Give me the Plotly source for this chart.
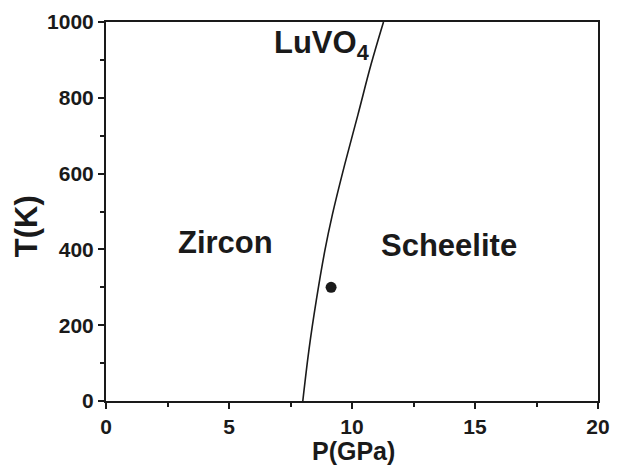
import plotly.graph_objects as go

# Phase boundary (P in GPa, T in K)
boundary_T = [0, 135, 266, 398, 491, 623, 755, 887, 1000]
boundary_P = [8.0, 8.25, 8.55, 8.9, 9.2, 9.7, 10.24, 10.77, 11.28]

# Experimental point
point_P = [9.15]
point_T = [300]

# Region labels
label_text = ["Zircon", "Scheelite", "LuVO<sub>4</sub>"]
label_P = [4.85, 13.95, 8.75]
label_T = [419, 410, 940]

x_title = "P(GPa)"
y_title = "T(K)"

INK = "#1a1a1a"
FONT = "Liberation Sans"

fig = go.Figure()
fig.add_trace(go.Scatter(x=boundary_P, y=boundary_T, mode="lines",
                         line=dict(color=INK, width=1.6, shape="spline", smoothing=1.0),
                         showlegend=False, hoverinfo="skip"))
fig.add_trace(go.Scatter(x=point_P, y=point_T, mode="markers",
                         marker=dict(color=INK, size=11),
                         showlegend=False))

for t, x, y in zip(label_text, label_P, label_T):
    fig.add_annotation(x=x, y=y, text=t, showarrow=False,
                       font=dict(family=FONT, size=31, color=INK, weight="bold"))

# axis titles placed as annotations for precise placement
fig.add_annotation(x=0.504, y=-0.132, xref="paper", yref="paper", text=x_title,
                   showarrow=False, xanchor="center", yanchor="middle",
                   font=dict(family=FONT, size=25, color=INK, weight="bold"))
fig.add_annotation(x=-0.16, y=0.462, xref="paper", yref="paper", text=y_title,
                   showarrow=False, xanchor="center", yanchor="middle", textangle=-90,
                   font=dict(family=FONT, size=31, color=INK, weight="bold"))

axis_common = dict(showgrid=False, zeroline=False, showline=True, linecolor=INK,
                   linewidth=2, mirror=True, ticks="outside", ticklen=6, tickwidth=2,
                   tickcolor=INK, automargin=False,
                   tickfont=dict(family=FONT, size=21, color=INK, weight="bold"))

fig.update_xaxes(range=[0, 20], tickvals=[0, 5, 10, 15, 20],
                 minor=dict(tickvals=[2.5, 7.5, 12.5, 17.5], ticks="outside", ticklen=4,
                            tickwidth=2, tickcolor=INK),
                 **axis_common)
fig.update_yaxes(range=[0, 1000], tickvals=[0, 200, 400, 600, 800, 1000],
                 minor=dict(tickvals=[100, 300, 500, 700, 900], ticks="outside", ticklen=4,
                            tickwidth=2, tickcolor=INK),
                 **axis_common)

fig.update_layout(width=621, height=465, margin=dict(l=106, r=23, t=22, b=64),
                  plot_bgcolor="white", paper_bgcolor="white")

fig.write_html("out.html")
